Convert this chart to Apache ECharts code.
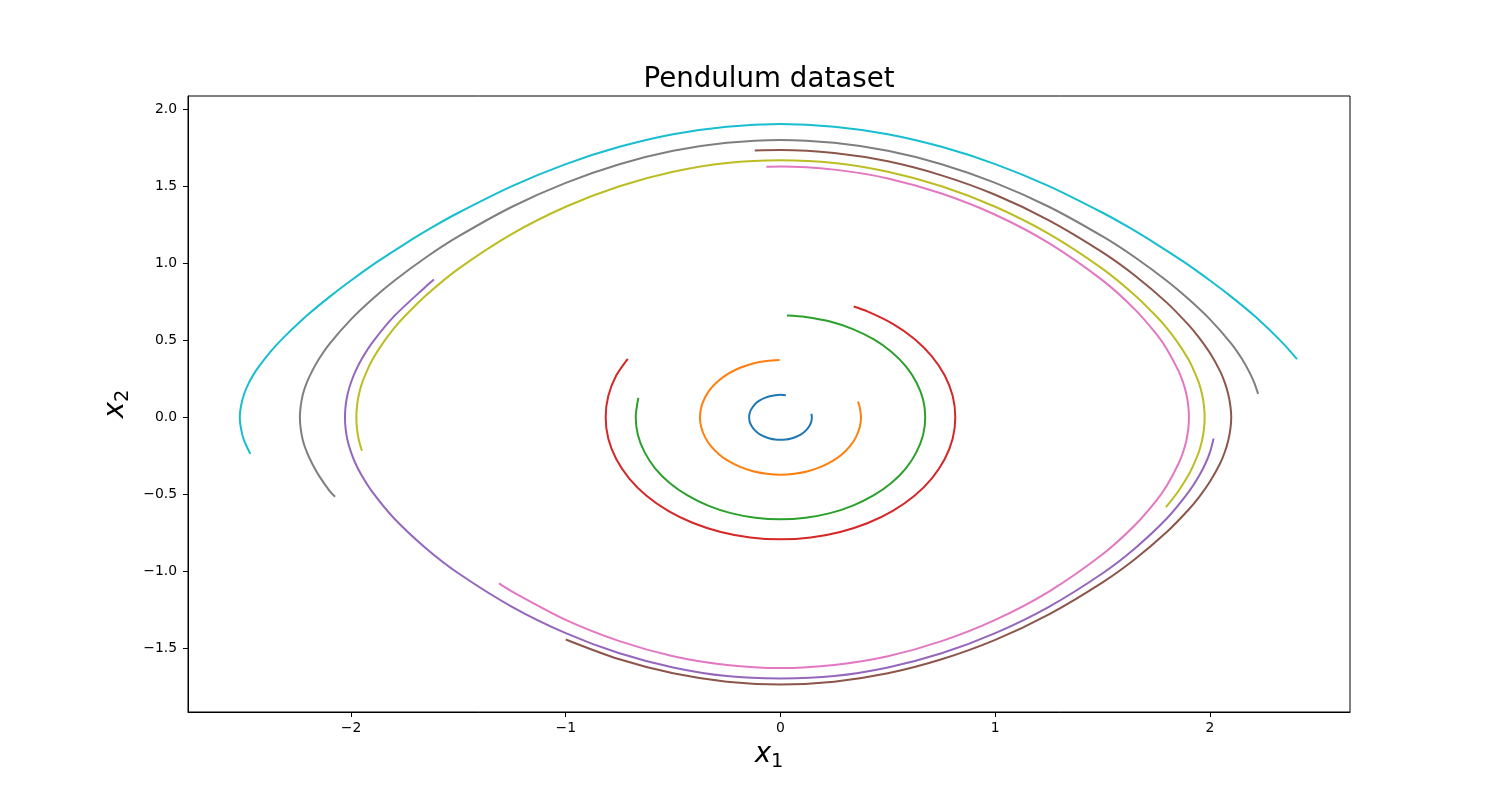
<!DOCTYPE html>
<html>
<head>
<meta charset="utf-8">
<title>Pendulum dataset</title>
<script src="https://cdn.jsdelivr.net/npm/echarts@6/dist/echarts.min.js"></script>
<style>
  html, body { margin: 0; padding: 0; background: #fff; }
  #chart { width: 1500px; height: 800px; }
</style>
</head>
<body>
<div id="chart"></div>
<script>
// trajectories, [x1, x2] pairs in drawing order
var traj0 = [[0.144,0.023],[0.146,0],[0.144,-0.025],[0.137,-0.050],[0.126,-0.073],[0.112,-0.094],[0.094,-0.112],[0.073,-0.126],[0.050,-0.137],[0.025,-0.144],[0,-0.146],[-0.025,-0.144],[-0.050,-0.137],[-0.073,-0.126],[-0.094,-0.112],[-0.112,-0.094],[-0.126,-0.073],[-0.137,-0.050],[-0.144,-0.025],[-0.146,0],[-0.144,0.025],[-0.137,0.050],[-0.126,0.073],[-0.112,0.094],[-0.094,0.112],[-0.073,0.126],[-0.050,0.137],[-0.025,0.144],[0,0.146],[0.025,0.144]];
var traj1 = [[0.361,0.103],[0.369,0.065],[0.375,0],[0.369,-0.065],[0.352,-0.127],[0.325,-0.186],[0.287,-0.239],[0.241,-0.285],[0.188,-0.322],[0.128,-0.350],[0.065,-0.366],[0,-0.372],[-0.065,-0.366],[-0.128,-0.350],[-0.188,-0.322],[-0.241,-0.285],[-0.287,-0.239],[-0.325,-0.186],[-0.352,-0.127],[-0.369,-0.065],[-0.375,0],[-0.369,0.065],[-0.352,0.127],[-0.325,0.186],[-0.287,0.239],[-0.241,0.285],[-0.188,0.322],[-0.128,0.350],[-0.065,0.366],[-0.004,0.372]];
var traj2 = [[0.030,0.661],[0.117,0.652],[0.231,0.622],[0.337,0.573],[0.433,0.507],[0.516,0.426],[0.584,0.331],[0.633,0.226],[0.664,0.115],[0.674,0],[0.664,-0.115],[0.633,-0.226],[0.584,-0.331],[0.516,-0.426],[0.433,-0.507],[0.337,-0.573],[0.231,-0.622],[0.117,-0.652],[0,-0.662],[-0.117,-0.652],[-0.231,-0.622],[-0.337,-0.573],[-0.433,-0.507],[-0.516,-0.426],[-0.584,-0.331],[-0.633,-0.226],[-0.664,-0.115],[-0.674,0],[-0.662,0.126]];
var traj3 = [[0.341,0.719],[0.407,0.686],[0.523,0.607],[0.624,0.509],[0.705,0.396],[0.765,0.271],[0.802,0.138],[0.814,0],[0.802,-0.138],[0.765,-0.271],[0.705,-0.396],[0.624,-0.509],[0.523,-0.607],[0.407,-0.686],[0.278,-0.744],[0.141,-0.780],[0,-0.792],[-0.141,-0.780],[-0.278,-0.744],[-0.407,-0.686],[-0.523,-0.607],[-0.624,-0.509],[-0.705,-0.396],[-0.765,-0.271],[-0.802,-0.138],[-0.814,0],[-0.802,0.138],[-0.765,0.271],[-0.711,0.380]];
var traj4 = [[-1.614,0.895],[-1.65,0.851],[-1.8,0.655],[-1.9,0.486],[-1.95,0.378],[-1.979,0.3],[-2.0,0.226],[-2.016,0.15],[-2.025,0.075],[-2.028,0],[-2.025,-0.075],[-2.016,-0.15],[-2.0,-0.226],[-1.979,-0.3],[-1.95,-0.378],[-1.9,-0.486],[-1.8,-0.655],[-1.65,-0.851],[-1.5,-1.012],[-1.25,-1.230],[-1.0,-1.401],[-0.75,-1.532],[-0.5,-1.624],[-0.25,-1.680],[0,-1.695],[0.25,-1.680],[0.5,-1.624],[0.75,-1.532],[1.0,-1.401],[1.25,-1.230],[1.5,-1.012],[1.65,-0.851],[1.8,-0.655],[1.9,-0.486],[1.95,-0.378],[1.979,-0.3],[2.0,-0.226],[2.017,-0.137]];
var traj5 = [[-0.120,1.733],[0,1.735],[0.25,1.716],[0.5,1.662],[0.75,1.571],[1.0,1.445],[1.25,1.279],[1.5,1.071],[1.65,0.921],[1.8,0.743],[1.9,0.600],[1.95,0.516],[2.0,0.417],[2.047,0.3],[2.069,0.225],[2.085,0.15],[2.095,0.075],[2.099,0],[2.095,-0.075],[2.085,-0.15],[2.069,-0.225],[2.047,-0.3],[2.0,-0.417],[1.95,-0.516],[1.9,-0.600],[1.8,-0.743],[1.65,-0.921],[1.5,-1.071],[1.25,-1.279],[1.0,-1.445],[0.75,-1.571],[0.5,-1.662],[0.25,-1.716],[0,-1.734],[-0.25,-1.716],[-0.5,-1.662],[-0.75,-1.571],[-1.0,-1.442]];
var traj6 = [[-0.066,1.626],[0,1.628],[0.25,1.608],[0.5,1.551],[0.75,1.453],[1.0,1.315],[1.25,1.131],[1.5,0.889],[1.65,0.701],[1.75,0.541],[1.8,0.441],[1.854,0.3],[1.875,0.225],[1.890,0.15],[1.899,0.075],[1.902,0],[1.899,-0.075],[1.890,-0.15],[1.875,-0.225],[1.854,-0.3],[1.8,-0.441],[1.75,-0.541],[1.65,-0.701],[1.5,-0.889],[1.25,-1.131],[1.0,-1.315],[0.75,-1.453],[0.5,-1.551],[0.25,-1.608],[0,-1.628],[-0.25,-1.608],[-0.5,-1.551],[-0.75,-1.453],[-1.0,-1.315],[-1.25,-1.131],[-1.311,-1.078]];
var traj7 = [[2.224,0.152],[2.206,0.225],[2.181,0.3],[2.15,0.377],[2.1,0.477],[2.0,0.636],[1.9,0.768],[1.8,0.885],[1.65,1.039],[1.5,1.174],[1.25,1.367],[1.0,1.522],[0.75,1.643],[0.5,1.730],[0.25,1.782],[0,1.801],[-0.25,1.782],[-0.5,1.730],[-0.75,1.643],[-1.0,1.522],[-1.25,1.367],[-1.5,1.174],[-1.65,1.039],[-1.8,0.885],[-1.9,0.768],[-2.0,0.636],[-2.1,0.477],[-2.15,0.377],[-2.181,0.3],[-2.206,0.225],[-2.224,0.15],[-2.234,0.075],[-2.238,0],[-2.234,-0.075],[-2.224,-0.15],[-2.206,-0.225],[-2.181,-0.3],[-2.15,-0.377],[-2.1,-0.477],[-2.074,-0.516]];
var traj8 = [[1.795,-0.583],[1.85,-0.485],[1.9,-0.375],[1.926,-0.3],[1.948,-0.225],[1.963,-0.15],[1.972,-0.075],[1.975,0],[1.972,0.075],[1.963,0.15],[1.948,0.225],[1.926,0.3],[1.9,0.375],[1.85,0.485],[1.8,0.577],[1.75,0.656],[1.65,0.793],[1.5,0.964],[1.25,1.191],[1.0,1.367],[0.75,1.500],[0.5,1.594],[0.25,1.651],[0,1.669],[-0.25,1.651],[-0.5,1.594],[-0.75,1.500],[-1.0,1.367],[-1.25,1.191],[-1.5,0.964],[-1.65,0.793],[-1.75,0.656],[-1.8,0.577],[-1.85,0.485],[-1.9,0.375],[-1.926,0.3],[-1.948,0.225],[-1.963,0.15],[-1.972,0.075],[-1.975,0],[-1.972,-0.075],[-1.963,-0.15],[-1.949,-0.217]];
var traj9 = [[2.405,0.378],[2.35,0.465],[2.3,0.537],[2.2,0.667],[2.1,0.782],[2.0,0.888],[1.875,1.012],[1.75,1.125],[1.625,1.231],[1.5,1.328],[1.25,1.501],[1.0,1.644],[0.75,1.756],[0.5,1.838],[0.25,1.887],[0,1.904],[-0.25,1.887],[-0.5,1.838],[-0.75,1.756],[-1.0,1.644],[-1.25,1.501],[-1.5,1.328],[-1.625,1.231],[-1.75,1.125],[-1.875,1.012],[-2.0,0.888],[-2.1,0.782],[-2.2,0.667],[-2.3,0.537],[-2.35,0.465],[-2.4,0.383],[-2.444,0.3],[-2.475,0.225],[-2.498,0.15],[-2.512,0.075],[-2.518,0],[-2.512,-0.075],[-2.498,-0.15],[-2.469,-0.237]];

var trajectories = [traj0, traj1, traj2, traj3, traj4, traj5, traj6, traj7, traj8, traj9];
var colors = ['#1f77b4', '#ff7f0e', '#2ca02c', '#d62728', '#9467bd',
              '#8c564b', '#e377c2', '#7f7f7f', '#bcbd22', '#17becf'];

var xTicks = [-2, -1, 0, 1, 2];
var yTicks = [-1.5, -1.0, -0.5, 0.0, 0.5, 1.0, 1.5, 2.0];
var xRange = [-2.759, 2.652];
var yRange = [-1.913, 2.086];

function minus(s) { return String(s).replace('-', '\u2212'); }

var font = 'DejaVu Sans';
var nameRich = {
    v: { fontFamily: font, fontSize: 27.7, fontStyle: 'italic', color: '#000' },
    s: { fontFamily: font, fontSize: 19.4, color: '#000', padding: [14, 0, 0, 0] }
};

var myChart = echarts.init(document.getElementById('chart'));

var series = trajectories.map(function (pts, i) {
    return {
        type: 'line',
        data: pts,
        smooth: 0.3,
        showSymbol: false,
        symbol: 'none',
        lineStyle: { color: colors[i], width: 2 },
        itemStyle: { color: colors[i] },
        z: 2 + i
    };
});

var option = {
    animation: false,
    backgroundColor: '#fff',
    title: {
        text: 'Pendulum dataset',
        left: 769,
        top: 66,
        padding: 0,
        textAlign: 'center',
        textStyle: { fontFamily: font, fontSize: 27.7, fontWeight: 'normal', color: '#000' }
    },
    grid: {
        left: 188,
        right: 150,
        top: 96,
        bottom: 88,
        show: true,
        borderColor: '#000',
        borderWidth: 1,
        backgroundColor: 'transparent'
    },
    xAxis: {
        type: 'value',
        min: xRange[0],
        max: xRange[1],
        name: '{v|x}{s|1}',
        nameLocation: 'middle',
        nameGap: 26,
        nameTextStyle: { rich: nameRich },
        splitLine: { show: false },
        axisLine: { show: true, onZero: false, lineStyle: { color: '#000', width: 1 } },
        axisTick: {
            show: true, length: 5, inside: false,
            customValues: xTicks,
            lineStyle: { color: '#000', width: 1 }
        },
        axisLabel: {
            customValues: xTicks,
            margin: 9,
            fontFamily: font, fontSize: 13.9, color: '#000',
            formatter: function (v) { return minus(v); }
        }
    },
    yAxis: {
        type: 'value',
        min: yRange[0],
        max: yRange[1],
        name: '{v|x}{s|2}',
        nameLocation: 'middle',
        nameRotate: 90,
        nameGap: 46,
        nameTextStyle: { rich: nameRich },
        splitLine: { show: false },
        axisLine: { show: true, onZero: false, lineStyle: { color: '#000', width: 1 } },
        axisTick: {
            show: true, length: 5, inside: false,
            customValues: yTicks,
            lineStyle: { color: '#000', width: 1 }
        },
        axisLabel: {
            customValues: yTicks,
            margin: 11,
            fontFamily: font, fontSize: 13.9, color: '#000',
            formatter: function (v) { return minus(v.toFixed(1)); }
        }
    },
    series: series
};

myChart.setOption(option);
</script>
</body>
</html>
